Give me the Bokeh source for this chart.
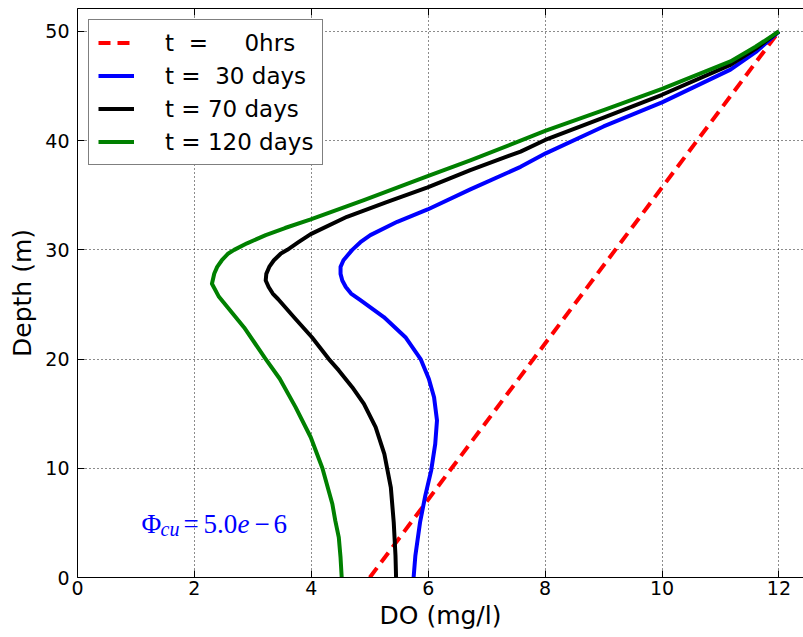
from bokeh.plotting import figure
from bokeh.models import Range1d, LinearAxis, Label, Legend, LegendItem, FixedTicker
from bokeh.embed import file_html
from bokeh.resources import INLINE

# ---- data ----
t0_do = [5.0, 12.0]
t0_depth = [0.0, 50.0]

t30_depth = [0, 2.0, 5.05, 7.5, 9.79, 12.24, 14.38, 16.5, 18.2, 20, 22.0, 23.85, 25.4, 26.0, 26.6,
             27.2, 27.8, 28.44, 29.05, 30.0, 30.7, 31.35, 32.57, 33.7, 35.54, 37.6, 38.84, 41.3,
             43.5, 46.5, 48.1, 50]
t30_do = [5.75, 5.78, 5.86, 5.95, 6.05, 6.12, 6.15, 6.10, 6.01, 5.87, 5.61, 5.24, 4.84, 4.68, 4.59,
          4.53, 4.50, 4.50, 4.55, 4.70, 4.84, 5.01, 5.47, 5.99, 6.72, 7.58, 8.01, 9.0,
          10.0, 11.17, 11.6, 12.0]

t70_depth = [0, 2.0, 5.05, 8.26, 11.3, 13.76, 15.9, 17.43, 18.96, 20, 22.0, 23.85, 25.5, 26.0, 26.6,
             27.2, 27.8, 28.44, 29.05, 29.67, 30.0, 30.7, 31.44, 33.03, 34.4, 35.72, 37.3, 39.0, 40.06,
             42.1, 44.2, 46.94, 48.4, 50]
t70_do = [5.45, 5.44, 5.41, 5.36, 5.25, 5.10, 4.90, 4.70, 4.47, 4.30, 4.01, 3.70, 3.43, 3.34, 3.27,
          3.22, 3.23, 3.28, 3.36, 3.48, 3.59, 3.78, 3.99, 4.61, 5.30, 5.99, 6.72, 7.58, 8.0,
          9.0, 10.0, 11.17, 11.6, 12.0]

t120_depth = [0, 1.83, 3.67, 5.2, 6.73, 10, 12.84, 15.6, 18.2, 20, 22.9, 24.8, 25.7, 26.9, 27.83,
              28.44, 29.05, 29.67, 30.0, 30.6, 31.35, 32.0, 32.79, 34.56, 36.76, 38.2, 40.0, 40.9,
              42.8, 44.74, 47.25, 48.6, 50]
t120_do = [4.52, 4.50, 4.47, 4.41, 4.36, 4.19, 3.99, 3.73, 3.46, 3.22, 2.85, 2.56, 2.42, 2.30, 2.34,
           2.39, 2.47, 2.58, 2.68, 2.90, 3.22, 3.55, 3.99, 4.90, 5.99, 6.72, 7.58, 8.0,
           9.0, 10.0, 11.17, 11.6, 12.0]

labels = ["t\u00a0\u00a0=\u00a0\u00a0\u00a0\u00a0\u00a00hrs",
          "t\u00a0=\u00a0\u00a030 days",
          "t = 70 days",
          "t = 120 days"]

x_ticks = [0, 2, 4, 6, 8, 10, 12]
y_ticks = [0, 10, 20, 30, 40, 50]

FONT = "DejaVu Sans"

p = figure(width=803, height=637, output_backend="svg", toolbar_location=None,
           x_range=Range1d(0, 12.42), y_range=Range1d(0, 52.1),
           min_border_left=77, min_border_right=0, min_border_top=8, min_border_bottom=60,
           background_fill_color="white", border_fill_color="white")
p.outline_line_color = None

# grid
for g in (p.xgrid, p.ygrid):
    g.grid_line_color = "black"
    g.grid_line_dash = "1 3"
    g.grid_line_alpha = 0.9
    g.grid_line_width = 1
p.xgrid.ticker = FixedTicker(ticks=x_ticks)
p.ygrid.ticker = FixedTicker(ticks=y_ticks)

for ax in (p.xaxis[0], p.yaxis[0]):
    ax.major_tick_in = 7
    ax.major_tick_out = 0
    ax.minor_tick_line_color = None
    ax.axis_line_color = "black"
    ax.major_tick_line_color = "black"
    ax.major_label_text_font = FONT
    ax.major_label_text_font_size = "19px"
    ax.major_label_text_color = "black"
    ax.axis_label_text_font = FONT
    ax.axis_label_text_font_size = "25px"
    ax.axis_label_text_font_style = "normal"
    ax.axis_label_text_color = "black"
p.xaxis[0].ticker = FixedTicker(ticks=x_ticks)
p.yaxis[0].ticker = FixedTicker(ticks=y_ticks)
p.xaxis[0].axis_label = "DO (mg/l)"
p.yaxis[0].axis_label = "Depth (m)"
p.xaxis[0].major_label_standoff = 3
p.xaxis[0].axis_label_standoff = 3
p.yaxis[0].major_label_standoff = 8
p.yaxis[0].axis_label_standoff = 5

top = LinearAxis(ticker=FixedTicker(ticks=x_ticks), major_tick_in=7, major_tick_out=0,
                 minor_tick_line_color=None, major_label_text_font_size="0px",
                 major_label_standoff=0, axis_line_color="black")
p.add_layout(top, "above")

r0 = p.line(t0_do, t0_depth, line_color="red", line_width=4, line_dash="12 7")
r1 = p.line(t30_do, t30_depth, line_color="blue", line_width=4, line_join="round")
r2 = p.line(t70_do, t70_depth, line_color="black", line_width=4, line_join="round")
r3 = p.line(t120_do, t120_depth, line_color="green", line_width=4, line_join="round")

legend = Legend(items=[LegendItem(label=labels[0], renderers=[r0]),
                       LegendItem(label=labels[1], renderers=[r1]),
                       LegendItem(label=labels[2], renderers=[r2]),
                       LegendItem(label=labels[3], renderers=[r3])],
                location="top_left", margin=11, padding=9, spacing=6,
                glyph_width=36, glyph_height=27, label_height=27, label_standoff=31,
                label_text_font=FONT, label_text_font_size="23px", label_text_color="black",
                border_line_color="black", border_line_width=1.5,
                background_fill_color="white", background_fill_alpha=1)
p.add_layout(legend)

# annotation  Phi_cu = 5.0e-6
ann_x = 1.095
ann_y = 4.9
parts = [("\u03a6", 0, 0, "normal", "27px"),
         ("cu", 19, -5, "italic", "20px"),
         ("=", 42, 0, "normal", "27px"),
         ("5.0", 62, 0, "normal", "27px"),
         ("e", 96, 0, "italic", "27px"),
         ("\u2212", 113, 0, "normal", "27px"),
         ("6", 132, 0, "normal", "27px")]
for txt, dx, dy, style, size in parts:
    p.add_layout(Label(x=ann_x, y=ann_y, x_offset=dx, y_offset=dy, text=txt,
                       text_font="Liberation Serif", text_font_style=style,
                       text_font_size=size, text_color="blue",
                       text_baseline="alphabetic", text_align="left"))

open("out.html", "w").write(file_html(p, INLINE))
